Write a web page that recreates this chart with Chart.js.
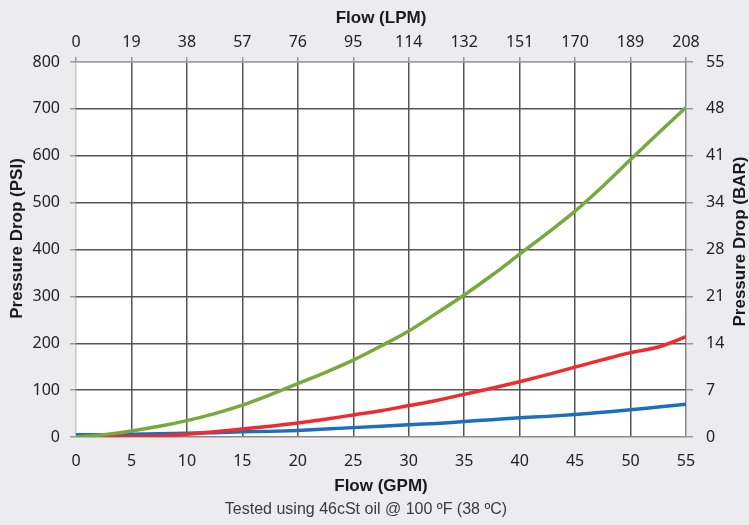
<!DOCTYPE html>
<html>
<head>
<meta charset="utf-8">
<script src="https://cdn.jsdelivr.net/npm/chart.js@4.4.1/dist/chart.umd.min.js"></script>
<style>
  body { margin: 0; background: #ececee; }
  #wrap { width: 749px; height: 525px; position: relative; background: #ececee; }
</style>
</head>
<body>
<div id="wrap"><canvas id="chart"></canvas></div>
<script>
// flow in GPM (bottom axis) and readings in PSI
const gpm = [0, 2.5, 5, 7.5, 10, 12.5, 15, 17.5, 20, 22.5, 25, 27.5, 30, 32.5, 35, 37.5, 40, 42.5, 45, 47.5, 50, 52.5, 55];
const greenPsi = [0, 5, 13, 23, 35, 50, 68, 90, 114, 138, 164, 194, 226, 264, 303, 345, 390, 435, 482, 535, 592, 648, 703];
const redPsi = [0, 0, 1, 2, 6, 11, 17, 23, 30, 38, 47, 56, 67, 78, 91, 104, 118, 133, 149, 165, 180, 192, 214];
const bluePsi = [5, 5, 6, 7, 8, 9, 11, 12, 14, 17, 20, 23, 26, 29, 33, 37, 41, 44, 48, 53, 58, 64, 70];

const lpmLabels = ["0", "19", "38", "57", "76", "95", "114", "132", "151", "170", "189", "208"];
const barLabels = ["0", "7", "14", "21", "28", "34", "41", "48", "55"];

const tickFont = {family: "'Noto Sans', sans-serif", size: 16};
const titleFont = {family: "'Liberation Sans', Arial, sans-serif", size: 17, weight: "bold"};

function pts(vals) {
    return gpm.map((g, i) => ({x: g, y: vals[i]}));
}

const plotBg = {
    id: "plotBg",
    beforeDraw(chart) {
        const a = chart.chartArea;
        const ctx = chart.ctx;
        ctx.save();
        ctx.fillStyle = "#ffffff";
        ctx.fillRect(a.left, a.top, a.right - a.left, a.bottom - a.top);
        ctx.restore();
    }
};

// both side titles read bottom-to-top, plus the caption under the chart
function sideTitle(ctx, text, x, y) {
    ctx.save();
    ctx.fillStyle = "#1a1a1a";
    ctx.font = "bold 17px 'Liberation Sans', Arial, sans-serif";
    ctx.textAlign = "center";
    ctx.textBaseline = "middle";
    ctx.translate(x, y);
    ctx.rotate(-Math.PI / 2);
    ctx.fillText(text, 0, 0);
    ctx.restore();
}

const extraText = {
    id: "extraText",
    afterDraw(chart) {
        const a = chart.chartArea;
        const ctx = chart.ctx;
        const mid = (a.top + a.bottom) / 2;
        sideTitle(ctx, "Pressure Drop (PSI)", 17, mid - 11);
        sideTitle(ctx, "Pressure Drop (BAR)", 740, mid - 8);

        ctx.save();
        ctx.fillStyle = "#3b3b3b";
        ctx.font = "16px 'Liberation Sans', Arial, sans-serif";
        ctx.textAlign = "center";
        ctx.textBaseline = "middle";
        ctx.fillText("Tested using 46cSt oil @ 100 ºF (38 ºC)", 366, 510);
        ctx.restore();
    }
};

new Chart(document.getElementById("chart"), {
    type: "line",
    data: {
        datasets: [
            {data: pts(greenPsi), borderColor: "#77a93d", borderWidth: 3.5, pointRadius: 0, cubicInterpolationMode: "monotone"},
            {data: pts(redPsi), borderColor: "#ee2b30", borderWidth: 3.5, pointRadius: 0, cubicInterpolationMode: "monotone"},
            {data: pts(bluePsi), borderColor: "#1a6fbf", borderWidth: 3.5, pointRadius: 0, cubicInterpolationMode: "monotone"}
        ]
    },
    options: {
        responsive: true,
        maintainAspectRatio: false,
        animation: false,
        layout: {padding: 0},
        plugins: {legend: {display: false}, tooltip: {enabled: false}},
        scales: {
            x: {
                type: "linear", position: "bottom", min: 0, max: 55,
                ticks: {stepSize: 5, font: tickFont, color: "#222", padding: 15, maxRotation: 0},
                grid: {
                    drawTicks: false, lineWidth: 1.5,
                    color: c => c.tick.value === 0 ? "#c8c8c8" : (c.tick.value === 55 ? "#8a8a8a" : "#555")
                },
                border: {display: false},
                title: {display: true, text: "Flow (GPM)", font: titleFont, color: "#1a1a1a", padding: {top: 0, bottom: 28}},
                afterFit: s => { s.height = 88; }
            },
            x2: {
                type: "linear", position: "top", min: 0, max: 55,
                ticks: {stepSize: 5, font: tickFont, color: "#222", padding: 5, maxRotation: 0,
                    callback: (v, i) => lpmLabels[i]},
                grid: {drawOnChartArea: false, tickLength: 5, color: "#999", lineWidth: 1.5},
                border: {color: "#a0a0a0", width: 1.5},
                title: {display: true, text: "Flow (LPM)", font: titleFont, color: "#1a1a1a", padding: {top: 8, bottom: 0}},
                afterFit: s => { s.height = 62; }
            },
            y: {
                type: "linear", position: "left", min: 0, max: 800,
                ticks: {stepSize: 100, font: tickFont, color: "#222", padding: 10},
                grid: {
                    tickLength: 6, lineWidth: 1.5, tickColor: "#999",
                    color: c => c.tick.value === 800 ? "#a0a0a0" : (c.tick.value === 0 ? "#8a8a8a" : "#555")
                },
                border: {display: false},
                afterFit: s => { s.width = 76; }
            },
            y2: {
                type: "linear", position: "right", min: 0, max: 800,
                ticks: {stepSize: 100, font: tickFont, color: "#222", padding: 13,
                    callback: (v, i) => barLabels[i]},
                grid: {drawOnChartArea: false, tickLength: 7, color: "#999", lineWidth: 1.5},
                border: {display: false},
                afterFit: s => { s.width = 63; }
            }
        }
    },
    plugins: [plotBg, extraText]
});
</script>
</body>
</html>
